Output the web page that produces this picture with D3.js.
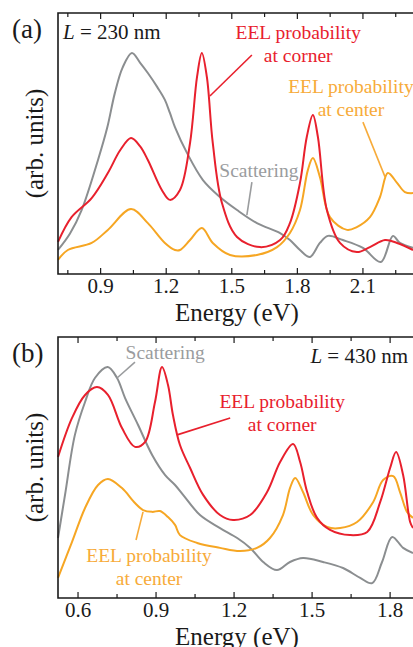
<!DOCTYPE html>
<head>
  <meta charset="utf-8">
  <title>EEL spectra</title>
  <script src="https://d3js.org/d3.v7.min.js"></script>
  <style>
    body { margin: 0; background: #fff; }
    svg { display: block; font-family: "Liberation Serif", "Times New Roman", serif; }
    .frame { stroke: #1a1a1a; stroke-width: 1.6px; fill: none; }
    .tick-line { stroke: #1a1a1a; stroke-width: 1.2px; }
    .tick-label { font-size: 21px; fill: #1a1a1a; }
    .axis-title { font-size: 25px; fill: #1a1a1a; }
    .panel-label { font-size: 27px; fill: #1a1a1a; }
    .curve { fill: none; stroke-width: 2px; stroke-linejoin: round; }
    .note { font-size: 19.5px; }
    .lead { stroke-width: 1.6px; }
  </style>
</head>

<body>
  <script>
    var width = 413, height = 647;

    var red = "#e8202d", orange = "#f6a623", gray = "#8b8e90";

    // panel (a), L = 230 nm : [energy eV, arb. units]
    var scatA = [[0.705, 9.2], [0.76, 15.5], [0.813, 24.5], [0.888, 43.7], [0.93, 56], [0.965, 69.3], [1.0, 79], [1.043, 84.7],
      [1.08, 81], [1.116, 77.0], [1.16, 71.5], [1.194, 66.7], [1.217, 61.7], [1.240, 56.3], [1.295, 46.4], [1.368, 36.0],
      [1.446, 29.5], [1.524, 24.5], [1.615, 19.5], [1.721, 15.7], [1.766, 13.0], [1.812, 9.2], [1.857, 6.5], [1.903, 11.9],
      [1.940, 14.6], [2.008, 13.0], [2.100, 10.0], [2.182, 4.6], [2.237, 14.6], [2.269, 11.9], [2.329, 10.0]];
    var cornerA = [[0.705, 12.3], [0.767, 21.8], [0.859, 29.1], [0.933, 38.7], [0.99, 47.5], [1.039, 52.1], [1.08, 49],
      [1.116, 43.7], [1.180, 32.2], [1.217, 28.4], [1.263, 32.2], [1.309, 50.2], [1.341, 75.5], [1.363, 84.7], [1.386, 75.5],
      [1.413, 50.2], [1.455, 27.2], [1.524, 14.2], [1.629, 10.3], [1.721, 13.0], [1.766, 19.5], [1.812, 34.9], [1.843, 52.5],
      [1.871, 60.9], [1.894, 52.5], [1.935, 24.5], [1.995, 11.9], [2.072, 8.4], [2.132, 10.3], [2.201, 13.0], [2.256, 11.9],
      [2.329, 9.2]];
    var centerA = [[0.705, 5.4], [0.750, 9.2], [0.859, 11.9], [0.933, 16.9], [1.039, 24.9], [1.116, 19.5], [1.194, 11.9],
      [1.240, 9.2], [1.263, 9.2], [1.309, 13.0], [1.363, 17.6], [1.413, 11.9], [1.492, 7.3], [1.615, 7.3], [1.707, 10.3],
      [1.766, 15.7], [1.812, 24.5], [1.848, 39.8], [1.871, 44.4], [1.903, 37.2], [1.949, 21.8], [2.027, 16.9], [2.072, 18.0],
      [2.132, 21.8], [2.178, 29.5], [2.214, 38.7], [2.256, 34.9], [2.292, 31.4], [2.329, 31.0]];

    // panel (b), L = 430 nm
    var scatB = [[0.523, 23.0], [0.550, 39.5], [0.588, 62.5], [0.627, 75.1], [0.665, 84.3], [0.714, 88.5], [0.750, 84.3],
      [0.781, 76.6], [0.831, 66.3], [0.885, 54.8], [0.935, 47.1], [0.973, 43.3], [1.004, 39.5], [1.069, 31.8], [1.146, 26.8],
      [1.212, 23.0], [1.262, 19.2], [1.312, 13.8], [1.365, 10.7], [1.415, 13.8], [1.465, 15.3], [1.542, 13.8], [1.619, 11.5],
      [1.685, 7.7], [1.731, 5.7], [1.769, 13.8], [1.808, 23.4], [1.850, 19.2], [1.888, 17.2]];
    var cornerB = [[0.523, 54.0], [0.577, 69.0], [0.627, 77.8], [0.673, 80.8], [0.715, 77.8], [0.769, 65.1], [0.819, 57.9],
      [0.858, 59.8], [0.896, 75.1], [0.923, 88.5], [0.946, 81.6], [0.965, 70.1], [0.992, 58.6], [1.031, 49.8], [1.081, 39.5],
      [1.146, 31.8], [1.196, 29.9], [1.262, 31.8], [1.327, 40.6], [1.377, 52.1], [1.427, 59.0], [1.454, 52.1], [1.481, 40.6],
      [1.519, 30.7], [1.569, 26.1], [1.646, 24.1], [1.712, 25.3], [1.762, 36.8], [1.800, 49.8], [1.823, 55.9], [1.850, 47.1],
      [1.877, 29.1], [1.888, 26.8]];
    var centerB = [[0.523, 7.7], [0.577, 21.5], [0.627, 34.5], [0.677, 43.3], [0.715, 45.6], [0.769, 42.1], [0.819, 36.4],
      [0.850, 33.7], [0.885, 33.0], [0.915, 33.3], [0.946, 31.0], [0.973, 28.0], [0.992, 24.1], [1.058, 21.1], [1.146, 19.2],
      [1.223, 18.0], [1.288, 19.2], [1.338, 23.0], [1.388, 31.8], [1.415, 42.1], [1.435, 46.0], [1.465, 40.6], [1.504, 31.8],
      [1.558, 27.2], [1.608, 26.8], [1.673, 29.1], [1.735, 36.8], [1.773, 45.2], [1.812, 46.7], [1.838, 40.6], [1.865, 33.0],
      [1.888, 30.7]];

    var ticksA = [0.9, 1.2, 1.5, 1.8, 2.1];
    var ticksB = [0.6, 0.9, 1.2, 1.5, 1.8];

    var svg = d3.select("body").append("svg")
      .attr("width", width)
      .attr("height", height);

    function drawPanel(cfg) {
      var x = d3.scaleLinear().domain(cfg.domain).range([58, width]);
      var y = d3.scaleLinear().domain([0, 100]).range([cfg.bottom, cfg.top]);
      var g = svg.append("g");

      var line = d3.line()
        .x(d => x(d[0]))
        .y(d => y(d[1]))
        .curve(d3.curveCatmullRom.alpha(0.5));

      cfg.series.forEach(function(s) {
        g.append("path")
          .attr("class", "curve")
          .attr("stroke", s.colour)
          .attr("d", line(s.values));
      });

      // inward ticks, top and bottom
      var minor = d3.range(Math.ceil(cfg.domain[0] / 0.15) * 0.15, cfg.domain[1], 0.15);
      minor.forEach(function(t) {
        var major = cfg.ticks.some(v => Math.abs(v - t) < 1e-6);
        var len = major ? 6 : 4;
        g.append("line").attr("class", "tick-line")
          .attr("x1", x(t)).attr("x2", x(t))
          .attr("y1", cfg.bottom).attr("y2", cfg.bottom - len);
        g.append("line").attr("class", "tick-line")
          .attr("x1", x(t)).attr("x2", x(t))
          .attr("y1", cfg.top).attr("y2", cfg.top + len);
      });

      g.selectAll(".tick-label")
        .data(cfg.ticks)
        .enter().append("text")
          .attr("class", "tick-label")
          .attr("x", d => x(d))
          .attr("y", cfg.bottom + 19)
          .attr("text-anchor", "middle")
          .text(d => d.toFixed(1));

      g.append("path")
        .attr("class", "frame")
        .attr("d", "M" + width + "," + cfg.top + "H58V" + cfg.bottom + "H" + width);

      g.append("text")
        .attr("class", "axis-title")
        .attr("x", 237)
        .attr("y", cfg.bottom + 47)
        .attr("text-anchor", "middle")
        .text("Energy (eV)");

      g.append("text")
        .attr("class", "axis-title")
        .attr("transform", "translate(43," + (cfg.top + cfg.bottom) / 2 + ") rotate(-90)")
        .attr("text-anchor", "middle")
        .text("(arb. units)");

      g.append("text")
        .attr("class", "panel-label")
        .attr("x", 12)
        .attr("y", cfg.top + 25)
        .text(cfg.label);

      var lt = g.append("text")
        .attr("class", "axis-title")
        .style("font-size", "21px")
        .attr("x", x(cfg.length.at[0]))
        .attr("y", y(cfg.length.at[1]))
        .attr("text-anchor", cfg.length.anchor);
      lt.append("tspan").style("font-style", "italic").text("L");
      lt.append("tspan").text(" = " + cfg.length.text);

      cfg.notes.forEach(function(n) {
        g.append("line")
          .attr("class", "lead")
          .attr("stroke", n.colour)
          .attr("x1", x(n.lead[0][0])).attr("y1", y(n.lead[0][1]))
          .attr("x2", x(n.lead[1][0])).attr("y2", y(n.lead[1][1]));
        n.lines.forEach(function(t, i) {
          g.append("text")
            .attr("class", "note")
            .attr("fill", n.colour)
            .attr("x", x(n.at[0]))
            .attr("y", y(n.at[1]) + i * 23)
            .attr("text-anchor", "middle")
            .text(t);
        });
      });
    }

    drawPanel({
      domain: [0.705, 2.329], top: 13, bottom: 274, label: "(a)", ticks: ticksA,
      series: [{values: scatA, colour: gray}, {values: centerA, colour: orange}, {values: cornerA, colour: red}],
      length: {text: "230 nm", at: [0.728, 90], anchor: "start"},
      notes: [
        {lines: ["EEL probability", "at corner"], colour: red, at: [1.804, 90.0], lead: [[1.592, 83.9], [1.400, 68.2]]},
        {lines: ["EEL probability", "at center"], colour: "#f7ab3a", at: [2.045, 69.3], lead: [[2.100, 58.2], [2.201, 37.2]]},
        {lines: ["Scattering"], colour: "#9a9c9e", at: [1.624, 37.2], lead: [[1.592, 35.2], [1.569, 22.6]]}
      ]
    });

    drawPanel({
      domain: [0.523, 1.888], top: 337, bottom: 598, label: "(b)", ticks: ticksB,
      series: [{values: scatB, colour: gray}, {values: centerB, colour: orange}, {values: cornerB, colour: red}],
      length: {text: "430 nm", at: [1.869, 90.0], anchor: "end"},
      notes: [
        {lines: ["Scattering"], colour: "#9a9c9e", at: [0.935, 91.6], lead: [[0.819, 90.4], [0.750, 84.3]]},
        {lines: ["EEL probability", "at corner"], colour: red, at: [1.385, 72.8], lead: [[1.185, 69.0], [0.981, 62.5]]},
        {lines: ["EEL probability", "at center"], colour: "#f7ab3a", at: [0.873, 13.8], lead: [[0.850, 33.0], [0.823, 22.2]]}
      ]
    });
  </script>
</body>
